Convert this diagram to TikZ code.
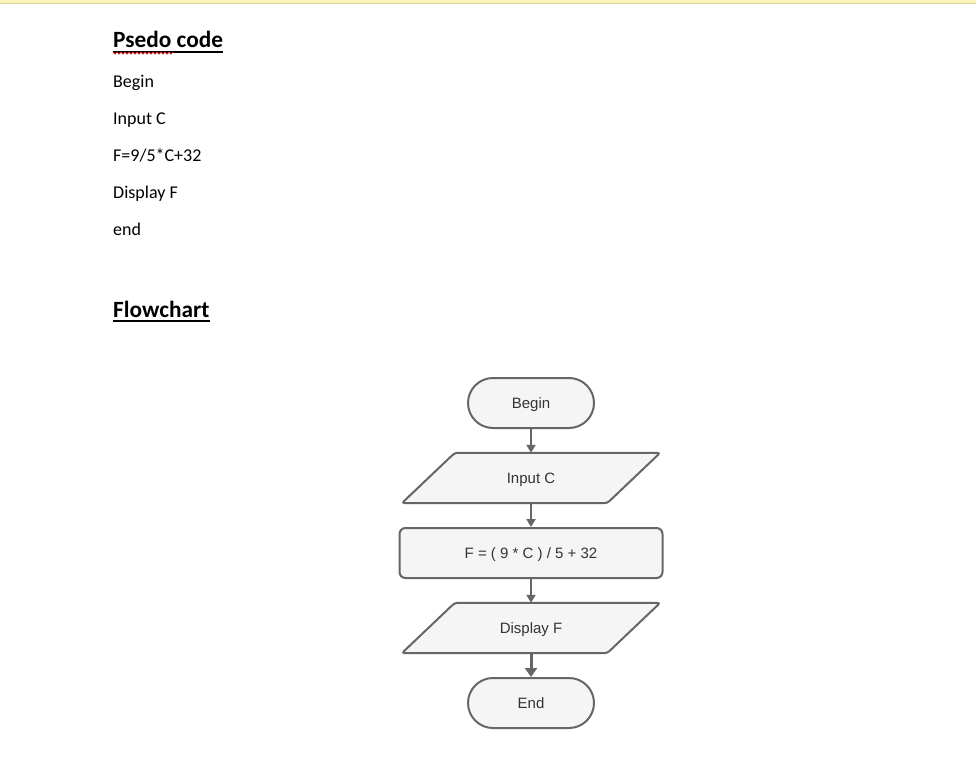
\documentclass[tikz,border=0pt]{standalone}
\usepackage{fontspec}
\setmainfont{Carlito}
\newfontfamily\flowfont{Liberation Sans}
\usetikzlibrary{arrows.meta}
\definecolor{barfill}{HTML}{FBF4B8}
\definecolor{barline}{HTML}{D9D19C}
\definecolor{shapefill}{HTML}{F5F5F5}
\definecolor{shapeline}{HTML}{666666}
\definecolor{flowtext}{HTML}{333333}
\definecolor{squiggle}{HTML}{D02020}
\tikzset{
  x=1pt, y=-1pt,
  bodytext/.style={anchor=base west, inner sep=0pt, font=\fontsize{18}{20}\selectfont},
  headtext/.style={anchor=base west, inner sep=0pt, font=\fontsize{23.3}{26}\selectfont\bfseries},
  flowfontstyle/.style={text=flowtext, font=\flowfont\fontsize{15}{17}\selectfont,
    text height=10.8pt, text depth=0pt},
  terminal/.style={draw=shapeline, fill=shapefill, line width=2pt, rounded corners=25pt,
    minimum width=126pt, minimum height=50pt, inner sep=0pt, flowfontstyle},
  process/.style={draw=shapeline, fill=shapefill, line width=2pt, rounded corners=6pt,
    minimum width=263pt, minimum height=50pt, inner sep=0pt, flowfontstyle},
  iobox/.style={minimum width=205pt, minimum height=50pt, inner sep=0pt, flowfontstyle},
  ioshape/.style={draw=shapeline, fill=shapefill, line width=2pt, rounded corners=3pt},
  flowarrow/.style={draw=shapeline, line width=2pt, -{Triangle[width=9pt,length=8pt]}},
  bigarrow/.style={draw=shapeline, line width=3pt, -{Triangle[width=12pt,length=9pt]}},
}
\begin{document}
\begin{tikzpicture}
\useasboundingbox (0,0) rectangle (976,757);
\fill[white] (0,0) rectangle (976,757);
% top bar
\fill[barfill] (0,0) rectangle (976,3);
\draw[barline, line width=1pt] (0,3.5) -- (976,3.5);

% pseudo code
\node[headtext] (h1) at (113,48) {Psedo code};
\draw[black, line width=2pt] ([yshift=-4pt]h1.base west) -- ([yshift=-4pt]h1.base east);
\draw[squiggle, line width=1pt] (113,52)
  \foreach \i in {0,...,14} { -- ++(2,2) -- ++(2,-2) };
\node[bodytext] (l1) at (113,87.5) {Begin};
\node[bodytext] (l2) at (113,124.5) {Input C};
\node[bodytext] (l3) at (113,161.5) {F=9/5*C+32};
\node[bodytext] (l4) at (113,198.5) {Display F};
\node[bodytext] (l5) at (113,235.5) {end};

\node[headtext] (h2) at (113,317) {Flowchart};
\draw[black, line width=2pt] ([yshift=-4pt]h2.base west) -- ([yshift=-4pt]h2.base east);

% flowchart
\node[terminal] (begin) at (531,403) {Begin};
\node[iobox] (inp) at (531,478) {};
\node[process] (calc) at (531,553) {F = ( 9 * C ) / 5 + 32};
\node[iobox] (disp) at (531,628) {};
\node[terminal] (end) at (531,703) {End};

\path[ioshape] ([xshift=26.5pt]inp.north west) -- ([xshift=26.5pt]inp.north east)
  -- ([xshift=-26.5pt]inp.south east) -- ([xshift=-26.5pt]inp.south west) -- cycle;
\node[iobox] at (inp) {Input C};
\path[ioshape] ([xshift=26.5pt]disp.north west) -- ([xshift=26.5pt]disp.north east)
  -- ([xshift=-26.5pt]disp.south east) -- ([xshift=-26.5pt]disp.south west) -- cycle;
\node[iobox] at (disp) {Display F};

\draw[flowarrow] (begin) -- (inp);
\draw[flowarrow] (inp) -- (calc);
\draw[flowarrow] (calc) -- (disp);
\draw[bigarrow] (disp) -- (end);
\end{tikzpicture}
\end{document}
